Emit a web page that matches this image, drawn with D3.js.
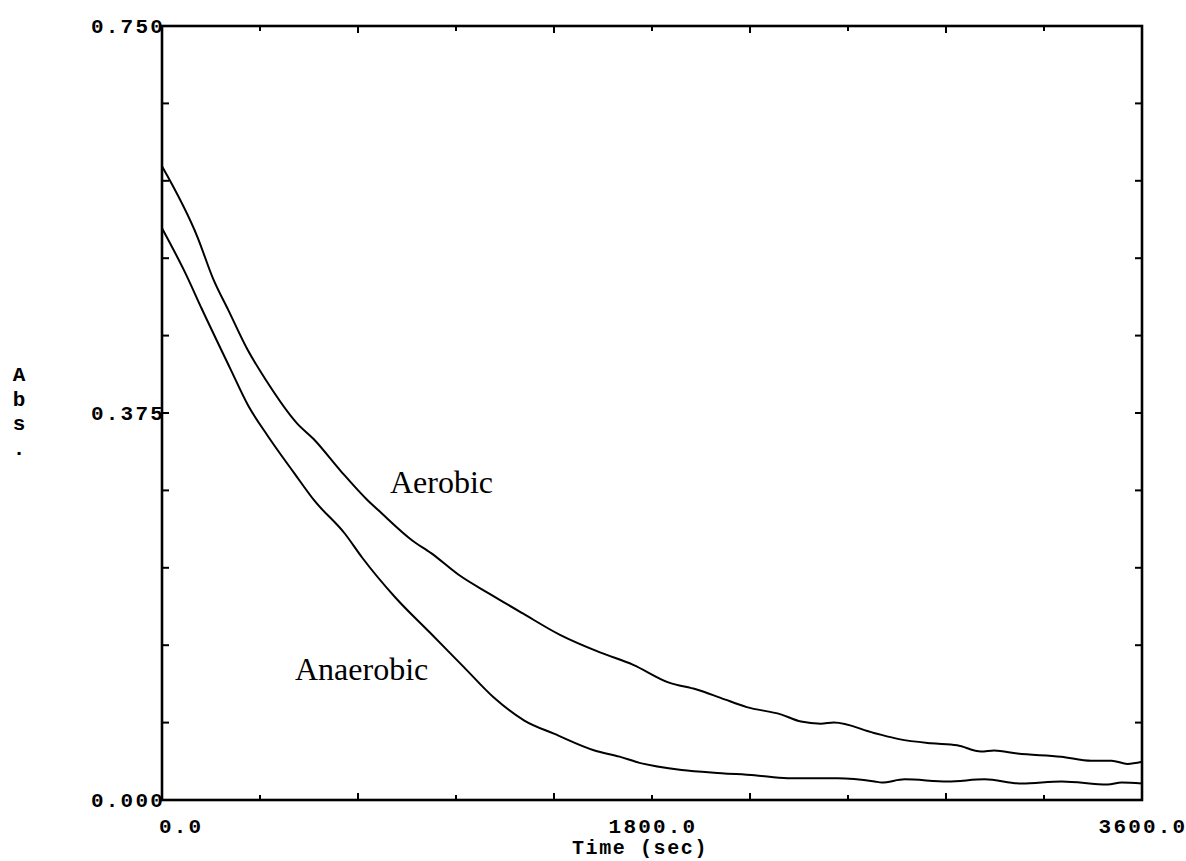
<!DOCTYPE html>
<html>
<head>
<meta charset="utf-8">
<script src="https://cdn.jsdelivr.net/npm/d3@7"></script>
<style>
  html, body { margin: 0; padding: 0; background: #fff; }
  svg { display: block; }
</style>
</head>
<body>
<svg id="chart" width="1186" height="861"></svg>
<script>
// ---- data (time in sec, absorbance) ----
const aerobicT = [0, 131, 188, 245, 313, 384, 496, 556, 656, 757, 794, 917, 990, 1091, 1202, 1324, 1462, 1609, 1731, 1860, 1964, 2052, 2148, 2273, 2347, 2420, 2468, 2615, 2707, 2825, 2921, 3009, 3057, 3142, 3303, 3414, 3488, 3547, 3600];
const aerobicV = [0.614, 0.545, 0.505, 0.474, 0.437, 0.406, 0.365, 0.350, 0.319, 0.290, 0.281, 0.252, 0.239, 0.218, 0.200, 0.181, 0.160, 0.143, 0.131, 0.114, 0.107, 0.099, 0.090, 0.083, 0.076, 0.074, 0.075, 0.065, 0.059, 0.055, 0.053, 0.047, 0.048, 0.045, 0.042, 0.038, 0.038, 0.035, 0.037];

const anaerobicT = [0, 85, 146, 249, 317, 388, 485, 560, 672, 735, 858, 985, 1108, 1220, 1331, 1442, 1589, 1681, 1754, 1909, 2056, 2177, 2298, 2482, 2618, 2644, 2728, 2886, 3022, 3158, 3305, 3474, 3525, 3600];
const anaerobicV = [0.554, 0.511, 0.476, 0.419, 0.382, 0.353, 0.317, 0.290, 0.258, 0.235, 0.196, 0.162, 0.129, 0.099, 0.077, 0.064, 0.048, 0.042, 0.036, 0.029, 0.026, 0.024, 0.021, 0.021, 0.018, 0.017, 0.020, 0.018, 0.020, 0.016, 0.018, 0.015, 0.017, 0.016];

const xTickLabels = ["0.0", "1800.0", "3600.0"];
const xTickLabelValues = [0, 1800, 3600];
const yTickLabels = ["0.000", "0.375", "0.750"];
const yTickLabelValues = [0, 0.375, 0.75];
const xMinorTicks = d3.range(0, 3601, 360);
const yMinorTicks = d3.range(0, 11).map(i => i * 0.075);
const seriesNames = ["Aerobic", "Anaerobic"];

// ---- layout ----
const L = 162, R = 1142, T = 26, B = 800;
const svg = d3.select("#chart");
const x = d3.scaleLinear().domain([0, 3600]).range([L, R]);
const y = d3.scaleLinear().domain([0, 0.75]).range([B, T]);

const monoFont = "'Liberation Mono', 'Courier New', monospace";
const serifFont = "'Liberation Serif', 'Times New Roman', serif";

// frame
svg.append("rect")
  .attr("x", L).attr("y", T).attr("width", R - L).attr("height", B - T)
  .attr("fill", "none").attr("stroke", "#000").attr("stroke-width", 2.6);

// ticks (inside)
const tickG = svg.append("g").attr("stroke", "#000").attr("stroke-width", 2);
xMinorTicks.slice(1, -1).forEach((v, i) => {
  const len = (i % 2 === 0) ? 5 : 7;
  tickG.append("line").attr("x1", x(v)).attr("x2", x(v)).attr("y1", B).attr("y2", B - len);
  tickG.append("line").attr("x1", x(v)).attr("x2", x(v)).attr("y1", T).attr("y2", T + len);
});
yMinorTicks.slice(1, -1).forEach((v, i) => {
  const len = 7;
  tickG.append("line").attr("x1", L).attr("x2", L + len).attr("y1", y(v)).attr("y2", y(v));
  tickG.append("line").attr("x1", R).attr("x2", R - len).attr("y1", y(v)).attr("y2", y(v));
});

// y tick labels
svg.append("g").selectAll("text").data(yTickLabelValues).join("text")
  .attr("x", L + 3).attr("y", d => y(d) + 7)
  .attr("text-anchor", "end")
  .attr("font-family", monoFont).attr("font-weight", "bold")
  .attr("font-size", 21).attr("letter-spacing", 2.2)
  .text((d, i) => yTickLabels[i]);

// x tick labels
svg.append("g").selectAll("text").data(xTickLabelValues).join("text")
  .attr("x", (d, i) => i === 0 ? x(d) - 3 : x(d) + 1)
  .attr("y", 833)
  .attr("text-anchor", (d, i) => i === 0 ? "start" : "middle")
  .attr("font-family", monoFont).attr("font-weight", "bold")
  .attr("font-size", 21).attr("letter-spacing", 2.2)
  .text((d, i) => xTickLabels[i]);

// axis titles
svg.append("text")
  .attr("x", 640).attr("y", 854).attr("text-anchor", "middle")
  .attr("font-family", monoFont).attr("font-weight", "bold")
  .attr("font-size", 20).attr("letter-spacing", 1.6)
  .text("Time (sec)");

const absLetters = ["A", "b", "s", "."];
svg.append("g").selectAll("text").data(absLetters).join("text")
  .attr("x", 19).attr("y", (d, i) => 381 + i * 24.5)
  .attr("text-anchor", "middle")
  .attr("font-family", monoFont).attr("font-weight", "bold")
  .attr("font-size", 21)
  .text(d => d);

// curves
const line = d3.line().x(d => x(d[0])).y(d => y(d[1])).curve(d3.curveMonotoneX);
const aerobic = aerobicT.map((t, i) => [t, aerobicV[i]]);
const anaerobic = anaerobicT.map((t, i) => [t, anaerobicV[i]]);
[aerobic, anaerobic].forEach(s => {
  svg.append("path").datum(s).attr("d", line)
    .attr("fill", "none").attr("stroke", "#000").attr("stroke-width", 2)
    .attr("stroke-linejoin", "round");
});

// series labels
svg.append("text").attr("x", 390).attr("y", 493)
  .attr("font-family", serifFont).attr("font-size", 32).text(seriesNames[0]);
svg.append("text").attr("x", 295).attr("y", 680)
  .attr("font-family", serifFont).attr("font-size", 32).text(seriesNames[1]);
</script>
</body>
</html>
